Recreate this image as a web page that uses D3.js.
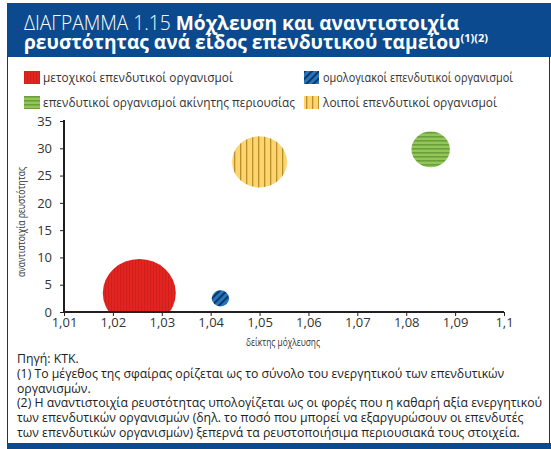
<!DOCTYPE html>
<html><head><meta charset="utf-8">
<script src="https://cdn.jsdelivr.net/npm/d3@7"></script>
<style>
body{margin:0;background:#fff;}
svg{display:block;}
text{font-family:"Open Sans",sans-serif;}
</style></head>
<body>
<script>
const categories = ["μετοχικοί επενδυτικοί οργανισμοί","ομολογιακοί επενδυτικοί οργανισμοί","επενδυτικοί οργανισμοί ακίνητης περιουσίας","λοιποί επενδυτικοί οργανισμοί"];
const leverage = [1.0254, 1.042, 1.085, 1.050];
const mismatch = [3.5, 2.5, 29.8, 27.5];
const assets = [100, 5.7, 27.7, 56.8];
const xTicks = [1.01,1.02,1.03,1.04,1.05,1.06,1.07,1.08,1.09,1.1];
const yTicks = [0,5,10,15,20,25,30,35];
const notes = ["Πηγή: ΚΤΚ.",
"(1) Το μέγεθος της σφαίρας ορίζεται ως το σύνολο του ενεργητικού των επενδυτικών",
"οργανισμών.",
"(2) Η αναντιστοιχία ρευστότητας υπολογίζεται ως οι φορές που η καθαρή αξία ενεργητικού",
"των επενδυτικών οργανισμών (δηλ. το ποσό που μπορεί να εξαργυρώσουν οι επενδυτές",
"των επενδυτικών οργανισμών) ξεπερνά τα ρευστοποιήσιμα περιουσιακά τους στοιχεία."];

const W=551,H=449;
const svg=d3.select("body").append("svg").attr("width",W).attr("height",H);
const defs=svg.append("defs");
const navy="#0b4a8e";

function fit(sel, w){
  sel.attr("textLength",w).attr("lengthAdjust","spacingAndGlyphs");
}

// patterns
function stripes(id, base, stripe, size, lineW, orient){
  const p=defs.append("pattern").attr("id",id).attr("patternUnits","userSpaceOnUse")
    .attr("width",size).attr("height",size);
  if(orient==="diag") p.attr("patternTransform","rotate(45)");
  p.append("rect").attr("width",size).attr("height",size).attr("fill",base);
  if(orient==="h") p.append("rect").attr("x",0).attr("y",0).attr("width",size).attr("height",lineW).attr("fill",stripe);
  else p.append("rect").attr("x",0).attr("y",0).attr("width",lineW).attr("height",size).attr("fill",stripe);
}
stripes("pRed","#e52521","#d01e1b",3,1.2,"v");
stripes("pBlue","#2277c0","#0d2f5a",5,1.8,"diag");
stripes("pGreen","#93c558","#6a9f3c",4,1.6,"h");
stripes("pYellow","#fdd470","#b8902a",6,1.3,"v");
const fills=["url(#pRed)","url(#pBlue)","url(#pGreen)","url(#pYellow)"];

// frame
svg.append("rect").attr("x",7).attr("y",3).attr("width",544).attr("height",54).attr("fill",navy);
svg.append("rect").attr("x",7).attr("y",443).attr("width",544).attr("height",6).attr("fill",navy);
svg.append("line").attr("x1",7.5).attr("x2",7.5).attr("y1",57).attr("y2",443).attr("stroke","#333").attr("stroke-width",1);
svg.append("line").attr("x1",549.5).attr("x2",549.5).attr("y1",57).attr("y2",443).attr("stroke","#333").attr("stroke-width",1);

// title
const t1=svg.append("text").attr("x",24).attr("y",30).attr("fill","#fff").attr("font-size",19.2);
t1.append("tspan").attr("font-weight",300).text("ΔΙΑΓΡΑΜΜΑ 1.15 ");
t1.append("tspan").attr("font-weight",700).text("Μόχλευση και αναντιστοιχία");
const t2=svg.append("text").attr("x",24).attr("y",49).attr("fill","#fff").attr("font-size",19.2).attr("font-weight",700);
t2.append("tspan").text("ρευστότητας ανά είδος επενδυτικού ταμείου");
t2.append("tspan").attr("font-size",11).attr("dy",-7).text("(1)(2)");

// legend
const legPos=[[24,71],[304,71],[24,96],[304,96]];
const legW=[190,190,252,174];
categories.forEach((c,i)=>{
  const [lx,ly]=legPos[i];
  svg.append("rect").attr("x",lx).attr("y",ly).attr("width",i%2?15:16).attr("height",13).attr("fill",fills[i]);
  const t=svg.append("text").attr("x",lx+19).attr("y",ly+11).attr("font-size",13).attr("fill","#333").text(c);
  fit(t,legW[i]);
});

// scales
const x=d3.scaleLinear().domain([1.01,1.1]).range([64,504]);
const y=d3.scaleLinear().domain([0,35]).range([312,121]);
const r=d3.scaleSqrt().domain([0,100]).range([0,36.5]);

defs.append("clipPath").attr("id","plotClip").append("rect")
  .attr("x",64).attr("y",100).attr("width",440).attr("height",212);

svg.append("g").attr("clip-path","url(#plotClip)").selectAll("ellipse").data(categories).join("ellipse")
  .attr("cx",(d,i)=>x(leverage[i])).attr("cy",(d,i)=>y(mismatch[i]))
  .attr("rx",(d,i)=>r(assets[i])).attr("ry",(d,i)=>r(assets[i])*0.93)
  .attr("fill",(d,i)=>fills[i]);

// axes
const xa=svg.append("g").attr("transform","translate(0,312)")
  .call(d3.axisBottom(x).tickValues(xTicks).tickSize(4).tickPadding(2).tickFormat(d=>String(+d.toFixed(2)).replace(".",",")));
const ya=svg.append("g").attr("transform","translate(64,0)")
  .call(d3.axisLeft(y).tickValues(yTicks).tickSize(4).tickPadding(8));
[xa,ya].forEach(a=>{
  a.select(".domain").attr("stroke","#231f20").attr("stroke-width",2);
  a.selectAll(".tick line").attr("stroke","#231f20").attr("stroke-width",1);
  a.selectAll(".tick text").attr("font-size",13).attr("fill","#333").attr("font-family","'Open Sans',sans-serif");
});
xa.select(".domain").attr("d","M64,0H504");
ya.select(".domain").attr("d","M0,120V313");

const xt=svg.append("text").attr("x",283).attr("y",346).attr("text-anchor","middle").attr("font-size",10).attr("fill","#333")
  .text("δείκτης μόχλευσης");
fit(xt,74);
const yt=svg.append("text").attr("transform","translate(25,222) rotate(-90)").attr("text-anchor","middle").attr("font-size",10).attr("fill","#333")
  .text("αναντιστοιχία ρευστότητας");
fit(yt,110);

// notes
const nt=svg.append("g").selectAll("text").data(notes).join("text")
  .attr("x",17).attr("y",(d,i)=>363+i*14.8).attr("font-size",13).attr("fill","#222").text(d=>d);
const natural=nt.nodes().map(n=>n.getComputedTextLength());
const k=525/natural[3];
nt.each(function(d,i){ fit(d3.select(this), natural[i]*k); });
</script>
</body></html>
